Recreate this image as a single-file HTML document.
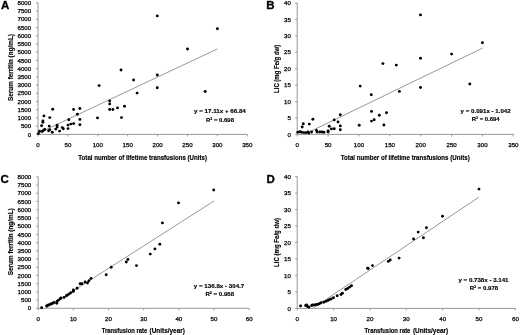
<!DOCTYPE html>
<html><head><meta charset="utf-8"><style>
html,body{margin:0;padding:0;background:#fff;}
svg{display:block;will-change:transform;}
.t{font-family:"Liberation Sans",sans-serif;font-size:6.0px;fill:#000;stroke:#000;stroke-width:0.25px;}
.b{font-family:"Liberation Sans",sans-serif;font-size:6.5px;font-weight:bold;fill:#000;stroke:#000;stroke-width:0.15px;}
.e{font-family:"Liberation Sans",sans-serif;font-size:6.1px;font-weight:bold;fill:#000;stroke:#000;stroke-width:0.15px;}
.L{font-family:"Liberation Sans",sans-serif;font-size:11.5px;font-weight:bold;fill:#000;stroke:#000;stroke-width:0.3px;}
</style></head><body>
<svg width="520" height="335" viewBox="0 0 520 335">
<rect width="520" height="335" fill="#fff"/>
<path d="M38 2.9V134.4H247.3" fill="none" stroke="#999999" stroke-width="1"/>
<path d="M36 134.4H38M36 126.18H38M36 117.96H38M36 109.74H38M36 101.53H38M36 93.31H38M36 85.09H38M36 76.87H38M36 68.65H38M36 60.43H38M36 52.21H38M36 43.99H38M36 35.78H38M36 27.56H38M36 19.34H38M36 11.12H38M36 2.9H38M38 134.4V136.4M67.9 134.4V136.4M97.8 134.4V136.4M127.7 134.4V136.4M157.6 134.4V136.4M187.5 134.4V136.4M217.4 134.4V136.4M247.3 134.4V136.4" fill="none" stroke="#999999" stroke-width="1"/>
<text x="31.2" y="136.55" text-anchor="end" class="t" textLength="3.42" lengthAdjust="spacingAndGlyphs">0</text>
<text x="31.2" y="128.33" text-anchor="end" class="t" textLength="10.26" lengthAdjust="spacingAndGlyphs">500</text>
<text x="31.2" y="120.11" text-anchor="end" class="t" textLength="13.68" lengthAdjust="spacingAndGlyphs">1000</text>
<text x="31.2" y="111.89" text-anchor="end" class="t" textLength="13.68" lengthAdjust="spacingAndGlyphs">1500</text>
<text x="31.2" y="103.67" text-anchor="end" class="t" textLength="13.68" lengthAdjust="spacingAndGlyphs">2000</text>
<text x="31.2" y="95.45" text-anchor="end" class="t" textLength="13.68" lengthAdjust="spacingAndGlyphs">2500</text>
<text x="31.2" y="87.24" text-anchor="end" class="t" textLength="13.68" lengthAdjust="spacingAndGlyphs">3000</text>
<text x="31.2" y="79.02" text-anchor="end" class="t" textLength="13.68" lengthAdjust="spacingAndGlyphs">3500</text>
<text x="31.2" y="70.8" text-anchor="end" class="t" textLength="13.68" lengthAdjust="spacingAndGlyphs">4000</text>
<text x="31.2" y="62.58" text-anchor="end" class="t" textLength="13.68" lengthAdjust="spacingAndGlyphs">4500</text>
<text x="31.2" y="54.36" text-anchor="end" class="t" textLength="13.68" lengthAdjust="spacingAndGlyphs">5000</text>
<text x="31.2" y="46.14" text-anchor="end" class="t" textLength="13.68" lengthAdjust="spacingAndGlyphs">5500</text>
<text x="31.2" y="37.92" text-anchor="end" class="t" textLength="13.68" lengthAdjust="spacingAndGlyphs">6000</text>
<text x="31.2" y="29.7" text-anchor="end" class="t" textLength="13.68" lengthAdjust="spacingAndGlyphs">6500</text>
<text x="31.2" y="21.49" text-anchor="end" class="t" textLength="13.68" lengthAdjust="spacingAndGlyphs">7000</text>
<text x="31.2" y="13.27" text-anchor="end" class="t" textLength="13.68" lengthAdjust="spacingAndGlyphs">7500</text>
<text x="31.2" y="5.05" text-anchor="end" class="t" textLength="13.68" lengthAdjust="spacingAndGlyphs">8000</text>
<text x="38" y="147.35" text-anchor="middle" class="t" textLength="3.42" lengthAdjust="spacingAndGlyphs">0</text>
<text x="67.9" y="147.35" text-anchor="middle" class="t" textLength="6.84" lengthAdjust="spacingAndGlyphs">50</text>
<text x="97.8" y="147.35" text-anchor="middle" class="t" textLength="10.26" lengthAdjust="spacingAndGlyphs">100</text>
<text x="127.7" y="147.35" text-anchor="middle" class="t" textLength="10.26" lengthAdjust="spacingAndGlyphs">150</text>
<text x="157.6" y="147.35" text-anchor="middle" class="t" textLength="10.26" lengthAdjust="spacingAndGlyphs">200</text>
<text x="187.5" y="147.35" text-anchor="middle" class="t" textLength="10.26" lengthAdjust="spacingAndGlyphs">250</text>
<text x="217.4" y="147.35" text-anchor="middle" class="t" textLength="10.26" lengthAdjust="spacingAndGlyphs">300</text>
<text x="247.3" y="147.35" text-anchor="middle" class="t" textLength="10.26" lengthAdjust="spacingAndGlyphs">350</text>
<text x="78.3" y="159.5" class="b" textLength="128.7" lengthAdjust="spacingAndGlyphs">Total number of lifetime transfusions (Units)</text>
<text x="12.6" y="67.5" class="b" text-anchor="middle" transform="rotate(-90 12.6 67.5)" textLength="67" lengthAdjust="spacingAndGlyphs">Serum ferritin (ng/mL)</text>
<line x1="38.9" y1="132.88" x2="217.4" y2="48.93" stroke="#8c8c8c" stroke-width="0.9"/>
<circle cx="157.3" cy="15.9" r="1.45"/>
<circle cx="217.4" cy="28.8" r="1.45"/>
<circle cx="187.5" cy="49" r="1.45"/>
<circle cx="121" cy="70" r="1.45"/>
<circle cx="157.3" cy="75" r="1.45"/>
<circle cx="133.6" cy="80" r="1.45"/>
<circle cx="99.1" cy="85.6" r="1.45"/>
<circle cx="157.3" cy="87.8" r="1.45"/>
<circle cx="137.1" cy="93.1" r="1.45"/>
<circle cx="205.2" cy="91.5" r="1.45"/>
<circle cx="109.7" cy="100.9" r="1.45"/>
<circle cx="109.7" cy="103.9" r="1.45"/>
<circle cx="109.7" cy="109.5" r="1.45"/>
<circle cx="112.9" cy="109.5" r="1.45"/>
<circle cx="117.5" cy="107.9" r="1.45"/>
<circle cx="124.5" cy="106.3" r="1.45"/>
<circle cx="97.5" cy="117.9" r="1.45"/>
<circle cx="121.5" cy="117.6" r="1.45"/>
<circle cx="52.7" cy="109.2" r="1.45"/>
<circle cx="73.6" cy="109.4" r="1.45"/>
<circle cx="79.9" cy="108.5" r="1.45"/>
<circle cx="43.9" cy="115.9" r="1.45"/>
<circle cx="49.8" cy="117.6" r="1.45"/>
<circle cx="42.9" cy="120.9" r="1.45"/>
<circle cx="42.9" cy="122.2" r="1.45"/>
<circle cx="41.6" cy="125.7" r="1.45"/>
<circle cx="77.4" cy="114.2" r="1.45"/>
<circle cx="68.8" cy="119.8" r="1.45"/>
<circle cx="79.9" cy="119.4" r="1.45"/>
<circle cx="79.9" cy="124.8" r="1.45"/>
<circle cx="49.2" cy="126.1" r="1.45"/>
<circle cx="57.1" cy="125.1" r="1.45"/>
<circle cx="57.1" cy="127" r="1.45"/>
<circle cx="68" cy="125.1" r="1.45"/>
<circle cx="70.8" cy="124.1" r="1.45"/>
<circle cx="73.6" cy="123.6" r="1.45"/>
<circle cx="38.4" cy="133.6" r="1.45"/>
<circle cx="39.6" cy="131.2" r="1.45"/>
<circle cx="42.2" cy="131.5" r="1.45"/>
<circle cx="43.6" cy="130.3" r="1.45"/>
<circle cx="44.8" cy="129.5" r="1.45"/>
<circle cx="48.6" cy="130.7" r="1.45"/>
<circle cx="49.8" cy="129.8" r="1.45"/>
<circle cx="52.3" cy="132.3" r="1.45"/>
<circle cx="55.8" cy="129.1" r="1.45"/>
<circle cx="59.6" cy="131.1" r="1.45"/>
<circle cx="62.3" cy="127.6" r="1.45"/>
<circle cx="63.3" cy="128.8" r="1.45"/>
<circle cx="68" cy="128.6" r="1.45"/>
<text x="194" y="113.38" class="e" textLength="51.8" lengthAdjust="spacingAndGlyphs">y = 17.11x + 66.84</text>
<text x="206" y="121.58" class="e" textLength="28" lengthAdjust="spacingAndGlyphs">R² = 0.698</text>
<text x="0.9" y="8.8" class="L">A</text>
<path d="M297.2 3V134.4H513.4" fill="none" stroke="#999999" stroke-width="1"/>
<path d="M295.2 134.4H297.2M295.2 117.98H297.2M295.2 101.55H297.2M295.2 85.12H297.2M295.2 68.7H297.2M295.2 52.28H297.2M295.2 35.85H297.2M295.2 19.42H297.2M295.2 3H297.2M297.2 134.4V136.4M328.09 134.4V136.4M358.97 134.4V136.4M389.86 134.4V136.4M420.74 134.4V136.4M451.63 134.4V136.4M482.51 134.4V136.4M513.4 134.4V136.4" fill="none" stroke="#999999" stroke-width="1"/>
<text x="290.9" y="136.55" text-anchor="end" class="t" textLength="3.42" lengthAdjust="spacingAndGlyphs">0</text>
<text x="290.9" y="120.12" text-anchor="end" class="t" textLength="3.42" lengthAdjust="spacingAndGlyphs">5</text>
<text x="290.9" y="103.7" text-anchor="end" class="t" textLength="6.84" lengthAdjust="spacingAndGlyphs">10</text>
<text x="290.9" y="87.27" text-anchor="end" class="t" textLength="6.84" lengthAdjust="spacingAndGlyphs">15</text>
<text x="290.9" y="70.85" text-anchor="end" class="t" textLength="6.84" lengthAdjust="spacingAndGlyphs">20</text>
<text x="290.9" y="54.42" text-anchor="end" class="t" textLength="6.84" lengthAdjust="spacingAndGlyphs">25</text>
<text x="290.9" y="38" text-anchor="end" class="t" textLength="6.84" lengthAdjust="spacingAndGlyphs">30</text>
<text x="290.9" y="21.57" text-anchor="end" class="t" textLength="6.84" lengthAdjust="spacingAndGlyphs">35</text>
<text x="290.9" y="5.15" text-anchor="end" class="t" textLength="6.84" lengthAdjust="spacingAndGlyphs">40</text>
<text x="297.2" y="147.35" text-anchor="middle" class="t" textLength="3.42" lengthAdjust="spacingAndGlyphs">0</text>
<text x="328.09" y="147.35" text-anchor="middle" class="t" textLength="6.84" lengthAdjust="spacingAndGlyphs">50</text>
<text x="358.97" y="147.35" text-anchor="middle" class="t" textLength="10.26" lengthAdjust="spacingAndGlyphs">100</text>
<text x="389.86" y="147.35" text-anchor="middle" class="t" textLength="10.26" lengthAdjust="spacingAndGlyphs">150</text>
<text x="420.74" y="147.35" text-anchor="middle" class="t" textLength="10.26" lengthAdjust="spacingAndGlyphs">200</text>
<text x="451.63" y="147.35" text-anchor="middle" class="t" textLength="10.26" lengthAdjust="spacingAndGlyphs">250</text>
<text x="482.51" y="147.35" text-anchor="middle" class="t" textLength="10.26" lengthAdjust="spacingAndGlyphs">300</text>
<text x="513.4" y="147.35" text-anchor="middle" class="t" textLength="10.26" lengthAdjust="spacingAndGlyphs">350</text>
<text x="340.8" y="159.8" class="b" textLength="128.9" lengthAdjust="spacingAndGlyphs">Total number of lifetime transfusions (Units)</text>
<text x="279.1" y="68.85" class="b" text-anchor="middle" transform="rotate(-90 279.1 68.85)" textLength="48.1" lengthAdjust="spacingAndGlyphs">LIC (mg Fe/g dw)</text>
<line x1="304.27" y1="134.4" x2="482.51" y2="48.14" stroke="#8c8c8c" stroke-width="0.9"/>
<circle cx="420.5" cy="14.9" r="1.45"/>
<circle cx="482.4" cy="42.7" r="1.45"/>
<circle cx="451.6" cy="54.1" r="1.45"/>
<circle cx="382.9" cy="63.6" r="1.45"/>
<circle cx="396.3" cy="65.1" r="1.45"/>
<circle cx="420.5" cy="58.3" r="1.45"/>
<circle cx="360.2" cy="86.1" r="1.45"/>
<circle cx="371.3" cy="94.7" r="1.45"/>
<circle cx="399.4" cy="91.4" r="1.45"/>
<circle cx="420.5" cy="87.5" r="1.45"/>
<circle cx="469.8" cy="84" r="1.45"/>
<circle cx="371.5" cy="111.4" r="1.45"/>
<circle cx="379.3" cy="115.3" r="1.45"/>
<circle cx="386.5" cy="112.8" r="1.45"/>
<circle cx="371.5" cy="121.1" r="1.45"/>
<circle cx="374.2" cy="119.7" r="1.45"/>
<circle cx="359.2" cy="125.2" r="1.45"/>
<circle cx="383.9" cy="125" r="1.45"/>
<circle cx="340.3" cy="114.7" r="1.45"/>
<circle cx="312.9" cy="119.3" r="1.45"/>
<circle cx="334.2" cy="119.9" r="1.45"/>
<circle cx="338" cy="121.9" r="1.45"/>
<circle cx="303.3" cy="123.7" r="1.45"/>
<circle cx="309.3" cy="124.1" r="1.45"/>
<circle cx="302.2" cy="127" r="1.45"/>
<circle cx="329.2" cy="126.3" r="1.45"/>
<circle cx="340.3" cy="125.9" r="1.45"/>
<circle cx="331.4" cy="128.9" r="1.45"/>
<circle cx="334.2" cy="128.7" r="1.45"/>
<circle cx="340.3" cy="129.8" r="1.45"/>
<circle cx="297.8" cy="132.2" r="1.45"/>
<circle cx="300" cy="131.8" r="1.45"/>
<circle cx="301.6" cy="132.2" r="1.45"/>
<circle cx="303.8" cy="132.6" r="1.45"/>
<circle cx="306" cy="132.6" r="1.45"/>
<circle cx="308" cy="132" r="1.45"/>
<circle cx="308.8" cy="133.1" r="1.45"/>
<circle cx="311.6" cy="132" r="1.45"/>
<circle cx="316.5" cy="130.4" r="1.45"/>
<circle cx="317.1" cy="132" r="1.45"/>
<circle cx="319.8" cy="132" r="1.45"/>
<circle cx="322" cy="132" r="1.45"/>
<circle cx="323.9" cy="132.2" r="1.45"/>
<circle cx="328.1" cy="130.9" r="1.45"/>
<circle cx="328.1" cy="132" r="1.45"/>
<text x="460.6" y="112.78" class="e" textLength="50.1" lengthAdjust="spacingAndGlyphs">y = 0.091x - 1.042</text>
<text x="471.7" y="121.08" class="e" textLength="28" lengthAdjust="spacingAndGlyphs">R² = 0.694</text>
<text x="266.2" y="8.8" class="L">B</text>
<path d="M38.2 176.9V308.3H249.2" fill="none" stroke="#999999" stroke-width="1"/>
<path d="M36.2 308.3H38.2M36.2 300.09H38.2M36.2 291.88H38.2M36.2 283.66H38.2M36.2 275.45H38.2M36.2 267.24H38.2M36.2 259.02H38.2M36.2 250.81H38.2M36.2 242.6H38.2M36.2 234.39H38.2M36.2 226.18H38.2M36.2 217.96H38.2M36.2 209.75H38.2M36.2 201.54H38.2M36.2 193.32H38.2M36.2 185.11H38.2M36.2 176.9H38.2M38.2 308.3V310.3M73.37 308.3V310.3M108.53 308.3V310.3M143.7 308.3V310.3M178.87 308.3V310.3M214.03 308.3V310.3M249.2 308.3V310.3" fill="none" stroke="#999999" stroke-width="1"/>
<text x="31.3" y="310.45" text-anchor="end" class="t" textLength="3.42" lengthAdjust="spacingAndGlyphs">0</text>
<text x="31.3" y="302.24" text-anchor="end" class="t" textLength="10.26" lengthAdjust="spacingAndGlyphs">500</text>
<text x="31.3" y="294.02" text-anchor="end" class="t" textLength="13.68" lengthAdjust="spacingAndGlyphs">1000</text>
<text x="31.3" y="285.81" text-anchor="end" class="t" textLength="13.68" lengthAdjust="spacingAndGlyphs">1500</text>
<text x="31.3" y="277.6" text-anchor="end" class="t" textLength="13.68" lengthAdjust="spacingAndGlyphs">2000</text>
<text x="31.3" y="269.39" text-anchor="end" class="t" textLength="13.68" lengthAdjust="spacingAndGlyphs">2500</text>
<text x="31.3" y="261.17" text-anchor="end" class="t" textLength="13.68" lengthAdjust="spacingAndGlyphs">3000</text>
<text x="31.3" y="252.96" text-anchor="end" class="t" textLength="13.68" lengthAdjust="spacingAndGlyphs">3500</text>
<text x="31.3" y="244.75" text-anchor="end" class="t" textLength="13.68" lengthAdjust="spacingAndGlyphs">4000</text>
<text x="31.3" y="236.54" text-anchor="end" class="t" textLength="13.68" lengthAdjust="spacingAndGlyphs">4500</text>
<text x="31.3" y="228.32" text-anchor="end" class="t" textLength="13.68" lengthAdjust="spacingAndGlyphs">5000</text>
<text x="31.3" y="220.11" text-anchor="end" class="t" textLength="13.68" lengthAdjust="spacingAndGlyphs">5500</text>
<text x="31.3" y="211.9" text-anchor="end" class="t" textLength="13.68" lengthAdjust="spacingAndGlyphs">6000</text>
<text x="31.3" y="203.69" text-anchor="end" class="t" textLength="13.68" lengthAdjust="spacingAndGlyphs">6500</text>
<text x="31.3" y="195.47" text-anchor="end" class="t" textLength="13.68" lengthAdjust="spacingAndGlyphs">7000</text>
<text x="31.3" y="187.26" text-anchor="end" class="t" textLength="13.68" lengthAdjust="spacingAndGlyphs">7500</text>
<text x="31.3" y="179.05" text-anchor="end" class="t" textLength="13.68" lengthAdjust="spacingAndGlyphs">8000</text>
<text x="38.2" y="321.25" text-anchor="middle" class="t" textLength="3.42" lengthAdjust="spacingAndGlyphs">0</text>
<text x="73.37" y="321.25" text-anchor="middle" class="t" textLength="6.84" lengthAdjust="spacingAndGlyphs">10</text>
<text x="108.53" y="321.25" text-anchor="middle" class="t" textLength="6.84" lengthAdjust="spacingAndGlyphs">20</text>
<text x="143.7" y="321.25" text-anchor="middle" class="t" textLength="6.84" lengthAdjust="spacingAndGlyphs">30</text>
<text x="178.87" y="321.25" text-anchor="middle" class="t" textLength="6.84" lengthAdjust="spacingAndGlyphs">40</text>
<text x="214.03" y="321.25" text-anchor="middle" class="t" textLength="6.84" lengthAdjust="spacingAndGlyphs">50</text>
<text x="249.2" y="321.25" text-anchor="middle" class="t" textLength="6.84" lengthAdjust="spacingAndGlyphs">60</text>
<text x="101.8" y="332.8" class="b" textLength="45.4" lengthAdjust="spacingAndGlyphs">Transfusion rate</text>
<text x="149.6" y="332.8" class="b" textLength="35.3" lengthAdjust="spacingAndGlyphs">(Units/year)</text>
<text x="12.8" y="241.75" class="b" text-anchor="middle" transform="rotate(-90 12.8 241.75)" textLength="66.9" lengthAdjust="spacingAndGlyphs">Serum ferritin (ng/mL)</text>
<line x1="46.03" y1="308.3" x2="214.03" y2="200.96" stroke="#8c8c8c" stroke-width="0.9"/>
<circle cx="213.7" cy="190" r="1.45"/>
<circle cx="178.5" cy="202.9" r="1.45"/>
<circle cx="162.4" cy="222.9" r="1.45"/>
<circle cx="159.8" cy="244.3" r="1.45"/>
<circle cx="154.9" cy="248.9" r="1.45"/>
<circle cx="150.3" cy="254.1" r="1.45"/>
<circle cx="136.5" cy="265.6" r="1.45"/>
<circle cx="127.9" cy="259.4" r="1.45"/>
<circle cx="126.3" cy="262" r="1.45"/>
<circle cx="111.2" cy="267.3" r="1.45"/>
<circle cx="106.2" cy="274.8" r="1.45"/>
<circle cx="41.6" cy="307.7" r="1.45"/>
<circle cx="46.6" cy="306" r="1.45"/>
<circle cx="47.8" cy="305.3" r="1.45"/>
<circle cx="49.3" cy="304.6" r="1.45"/>
<circle cx="50.9" cy="304" r="1.45"/>
<circle cx="52.4" cy="303.5" r="1.45"/>
<circle cx="53.8" cy="302.5" r="1.45"/>
<circle cx="56.7" cy="303.3" r="1.45"/>
<circle cx="57.1" cy="301.3" r="1.45"/>
<circle cx="58.6" cy="300.1" r="1.45"/>
<circle cx="60.2" cy="298.8" r="1.45"/>
<circle cx="61" cy="298" r="1.45"/>
<circle cx="64.1" cy="297.4" r="1.45"/>
<circle cx="66.4" cy="295.7" r="1.45"/>
<circle cx="67.6" cy="294.9" r="1.45"/>
<circle cx="69.5" cy="293.7" r="1.45"/>
<circle cx="71.1" cy="292.6" r="1.45"/>
<circle cx="73.4" cy="291.2" r="1.45"/>
<circle cx="73.4" cy="290" r="1.45"/>
<circle cx="77.1" cy="288.3" r="1.45"/>
<circle cx="80.1" cy="283.8" r="1.45"/>
<circle cx="82" cy="283.8" r="1.45"/>
<circle cx="85.1" cy="282" r="1.45"/>
<circle cx="87.5" cy="283" r="1.45"/>
<circle cx="89" cy="280.7" r="1.45"/>
<circle cx="91" cy="278.4" r="1.45"/>
<text x="193.8" y="288.38" class="e" textLength="50.5" lengthAdjust="spacingAndGlyphs">y = 136.8x - 304.7</text>
<text x="205.4" y="296.38" class="e" textLength="28.8" lengthAdjust="spacingAndGlyphs">R² = 0.958</text>
<text x="0.6" y="182.9" class="L">C</text>
<path d="M297.2 176.5V308.4H515.4" fill="none" stroke="#999999" stroke-width="1"/>
<path d="M295.2 308.4H297.2M295.2 291.91H297.2M295.2 275.42H297.2M295.2 258.94H297.2M295.2 242.45H297.2M295.2 225.96H297.2M295.2 209.47H297.2M295.2 192.99H297.2M295.2 176.5H297.2M297.2 308.4V310.4M333.57 308.4V310.4M369.93 308.4V310.4M406.3 308.4V310.4M442.67 308.4V310.4M479.03 308.4V310.4M515.4 308.4V310.4" fill="none" stroke="#999999" stroke-width="1"/>
<text x="290.9" y="310.55" text-anchor="end" class="t" textLength="3.42" lengthAdjust="spacingAndGlyphs">0</text>
<text x="290.9" y="294.06" text-anchor="end" class="t" textLength="3.42" lengthAdjust="spacingAndGlyphs">5</text>
<text x="290.9" y="277.57" text-anchor="end" class="t" textLength="6.84" lengthAdjust="spacingAndGlyphs">10</text>
<text x="290.9" y="261.09" text-anchor="end" class="t" textLength="6.84" lengthAdjust="spacingAndGlyphs">15</text>
<text x="290.9" y="244.6" text-anchor="end" class="t" textLength="6.84" lengthAdjust="spacingAndGlyphs">20</text>
<text x="290.9" y="228.11" text-anchor="end" class="t" textLength="6.84" lengthAdjust="spacingAndGlyphs">25</text>
<text x="290.9" y="211.62" text-anchor="end" class="t" textLength="6.84" lengthAdjust="spacingAndGlyphs">30</text>
<text x="290.9" y="195.14" text-anchor="end" class="t" textLength="6.84" lengthAdjust="spacingAndGlyphs">35</text>
<text x="290.9" y="178.65" text-anchor="end" class="t" textLength="6.84" lengthAdjust="spacingAndGlyphs">40</text>
<text x="297.2" y="321.25" text-anchor="middle" class="t" textLength="3.42" lengthAdjust="spacingAndGlyphs">0</text>
<text x="333.57" y="321.25" text-anchor="middle" class="t" textLength="6.84" lengthAdjust="spacingAndGlyphs">10</text>
<text x="369.93" y="321.25" text-anchor="middle" class="t" textLength="6.84" lengthAdjust="spacingAndGlyphs">20</text>
<text x="406.3" y="321.25" text-anchor="middle" class="t" textLength="6.84" lengthAdjust="spacingAndGlyphs">30</text>
<text x="442.67" y="321.25" text-anchor="middle" class="t" textLength="6.84" lengthAdjust="spacingAndGlyphs">40</text>
<text x="479.03" y="321.25" text-anchor="middle" class="t" textLength="6.84" lengthAdjust="spacingAndGlyphs">50</text>
<text x="515.4" y="321.25" text-anchor="middle" class="t" textLength="6.84" lengthAdjust="spacingAndGlyphs">60</text>
<text x="364.6" y="332.7" class="b" textLength="45.8" lengthAdjust="spacingAndGlyphs">Transfusion rate</text>
<text x="412.9" y="332.7" class="b" textLength="35.3" lengthAdjust="spacingAndGlyphs">(Units/year)</text>
<text x="279.1" y="242.5" class="b" text-anchor="middle" transform="rotate(-90 279.1 242.5)" textLength="49" lengthAdjust="spacingAndGlyphs">LIC (mg Fe/g dw)</text>
<line x1="312.68" y1="308.4" x2="479.03" y2="197.08" stroke="#8c8c8c" stroke-width="0.9"/>
<circle cx="479" cy="189.1" r="1.45"/>
<circle cx="442.5" cy="216.3" r="1.45"/>
<circle cx="426.4" cy="227.8" r="1.45"/>
<circle cx="418.2" cy="232.1" r="1.45"/>
<circle cx="423.4" cy="237.7" r="1.45"/>
<circle cx="413.6" cy="239" r="1.45"/>
<circle cx="399.1" cy="258.1" r="1.45"/>
<circle cx="390.2" cy="260" r="1.45"/>
<circle cx="388.3" cy="261.4" r="1.45"/>
<circle cx="372.5" cy="265.6" r="1.45"/>
<circle cx="367.6" cy="268.3" r="1.45"/>
<circle cx="300.6" cy="305.9" r="1.45"/>
<circle cx="305.7" cy="305.5" r="1.45"/>
<circle cx="307.1" cy="305.9" r="1.45"/>
<circle cx="308" cy="306.9" r="1.45"/>
<circle cx="309" cy="307.1" r="1.45"/>
<circle cx="306.5" cy="305" r="1.45"/>
<circle cx="311.7" cy="305.5" r="1.45"/>
<circle cx="312.7" cy="305" r="1.45"/>
<circle cx="314.5" cy="305" r="1.45"/>
<circle cx="316.4" cy="304.5" r="1.45"/>
<circle cx="318.2" cy="304.3" r="1.45"/>
<circle cx="319.6" cy="303.6" r="1.45"/>
<circle cx="321" cy="302.7" r="1.45"/>
<circle cx="323.8" cy="302.2" r="1.45"/>
<circle cx="326.1" cy="301.3" r="1.45"/>
<circle cx="328" cy="300.4" r="1.45"/>
<circle cx="329.3" cy="299.6" r="1.45"/>
<circle cx="331.2" cy="299" r="1.45"/>
<circle cx="333.5" cy="297.8" r="1.45"/>
<circle cx="337.2" cy="295.7" r="1.45"/>
<circle cx="341" cy="294.5" r="1.45"/>
<circle cx="342.4" cy="293.3" r="1.45"/>
<circle cx="345.8" cy="289.5" r="1.45"/>
<circle cx="347.7" cy="288.5" r="1.45"/>
<circle cx="349.6" cy="287.1" r="1.45"/>
<circle cx="351.5" cy="285.7" r="1.45"/>
<circle cx="368.2" cy="268.5" r="1.45"/>
<text x="458.5" y="281.58" class="e" textLength="50" lengthAdjust="spacingAndGlyphs">y = 0.738x - 3.141</text>
<text x="469.7" y="289.78" class="e" textLength="28.5" lengthAdjust="spacingAndGlyphs">R² = 0.978</text>
<text x="266.4" y="182.7" class="L">D</text>
</svg>
</body></html>
